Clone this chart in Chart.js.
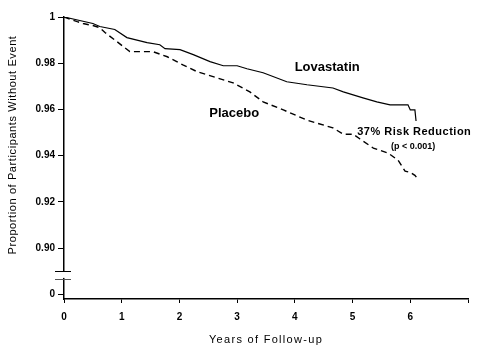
<!DOCTYPE html>
<html>
  <head>
    <title>Lovastatin vs Placebo - Proportion Without Event</title>
    <script src="https://cdn.jsdelivr.net/npm/chart.js"></script>
    <style>
      body { margin: 0; background: #fff; }
      #wrap { width: 503px; height: 364px; }
    </style>
  </head>
  <body>
    <div id="wrap"><canvas id="km-chart"></canvas></div>
    <script>
      // Kaplan-Meier style curves
      const lovastatinYears = [0, 0.50, 0.62, 0.88, 1.09, 1.44, 1.66, 1.75, 2.01, 2.24, 2.53, 2.76, 3.00, 3.17, 3.45, 3.86, 4.21, 4.66, 4.84, 5.18, 5.42, 5.65, 5.96, 6.00, 6.08, 6.10];
      const lovastatinSurvival = [1.000, 0.9972, 0.9959, 0.9946, 0.9911, 0.9889, 0.9880, 0.9863, 0.9859, 0.9837, 0.9807, 0.9789, 0.9789, 0.9776, 0.9759, 0.9720, 0.9707, 0.9693, 0.9676, 0.9650, 0.9633, 0.9620, 0.9620, 0.9598, 0.9598, 0.9550];

      const placeboYears = [0, 0.23, 0.33, 0.50, 0.62, 0.71, 0.92, 1.14, 1.54, 1.79, 2.06, 2.31, 2.65, 2.93, 3.22, 3.45, 3.80, 4.21, 4.66, 4.84, 5.01, 5.13, 5.36, 5.62, 5.79, 5.91, 6.00, 6.08, 6.12];
      const placeboSurvival = [1.000, 0.9980, 0.9972, 0.9963, 0.9954, 0.9933, 0.9893, 0.9850, 0.9850, 0.9828, 0.9793, 0.9763, 0.9737, 0.9715, 0.9676, 0.9633, 0.9598, 0.9554, 0.9520, 0.9493, 0.9493, 0.9472, 0.9433, 0.9411, 0.9380, 0.9333, 0.9328, 0.9315, 0.9302];

      // y axis is broken: the lowest tick (drawn at 0.88) stands for 0
      const yTickValues = [0.88, 0.90, 0.92, 0.94, 0.96, 0.98, 1.00];
      const yTickLabels = ["0", "0.90", "0.92", "0.94", "0.96", "0.98", "1"];
      const xTickLabels = ["0", "1", "2", "3", "4", "5", "6", ""];

      const toPoints = (xs, ys) => xs.map((x, i) => ({ x: x, y: ys[i] }));

      // text placed inside the plot, in data units
      const notes = [
        { text: "Lovastatin", x: 4.56, y: 0.9781, font: "bold 13px 'Liberation Sans', Arial", align: "center", spacing: "0px" },
        { text: "Placebo", x: 2.95, y: 0.9582, font: "bold 13px 'Liberation Sans', Arial", align: "center", spacing: "0px" },
        { text: "37% Risk Reduction", x: 5.08, y: 0.9504, font: "bold 11px 'Liberation Sans', Arial", align: "left", spacing: "0.5px" },
        { text: "(p < 0.001)", x: 6.05, y: 0.9439, font: "bold 9px 'Liberation Sans', Arial", align: "center", spacing: "0px" }
      ];

      const extras = {
        id: "extras",
        afterDraw(chart) {
          const ctx = chart.ctx;
          const xs = chart.scales.x, ys = chart.scales.y;
          const left = chart.chartArea.left;
          ctx.save();

          // axis break
          const yb1 = ys.getPixelForValue(0.8902);
          const yb2 = ys.getPixelForValue(0.8867);
          ctx.fillStyle = "#fff";
          ctx.fillRect(left - 3, yb1 + 1, 6, yb2 - yb1 - 2);
          ctx.lineWidth = 1;
          ctx.strokeStyle = "#000";
          ctx.beginPath();
          ctx.moveTo(left - 9, Math.round(yb1) + 0.5);
          ctx.lineTo(left + 7, Math.round(yb1) + 0.5);
          ctx.stroke();
          ctx.strokeStyle = "#555";
          ctx.beginPath();
          ctx.moveTo(left - 9, Math.round(yb2) + 0.5);
          ctx.lineTo(left + 7, Math.round(yb2) + 0.5);
          ctx.stroke();

          // annotations
          ctx.fillStyle = "#000";
          ctx.textBaseline = "middle";
          notes.forEach(n => {
            ctx.font = n.font;
            ctx.letterSpacing = n.spacing;
            ctx.textAlign = n.align;
            ctx.fillText(n.text, xs.getPixelForValue(n.x), ys.getPixelForValue(n.y));
          });

          // axis titles
          ctx.font = "11px 'Liberation Sans', Arial";
          ctx.letterSpacing = "1.3px";
          ctx.textAlign = "center";
          ctx.fillText("Years of Follow-up", (chart.chartArea.left + chart.chartArea.right) / 2, 340);

          ctx.letterSpacing = "0.6px";
          ctx.translate(13, 145);
          ctx.rotate(-Math.PI / 2);
          ctx.fillText("Proportion of Participants Without Event", 0, 0);
          ctx.restore();
        }
      };

      Chart.defaults.font.family = "'Liberation Sans', Arial, sans-serif";
      Chart.defaults.color = "#000";

      new Chart(document.getElementById("km-chart"), {
        type: "line",
        data: {
          datasets: [
            {
              label: "Lovastatin",
              data: toPoints(lovastatinYears, lovastatinSurvival),
              borderColor: "#000",
              borderWidth: 1.2,
              pointRadius: 0,
              tension: 0,
              fill: false
            },
            {
              label: "Placebo",
              data: toPoints(placeboYears, placeboSurvival),
              borderColor: "#000",
              borderWidth: 1.4,
              borderDash: [6, 4],
              pointRadius: 0,
              tension: 0,
              fill: false
            }
          ]
        },
        options: {
          responsive: true,
          maintainAspectRatio: false,
          animation: false,
          layout: { padding: { top: 17, right: 35, left: 0, bottom: 0 } },
          plugins: {
            legend: { display: false },
            tooltip: { enabled: false }
          },
          scales: {
            x: {
              type: "linear",
              min: 0,
              max: 7,
              afterFit: s => { s.height = 65; },
              ticks: {
                stepSize: 1,
                padding: 8,
                font: { size: 10, weight: "bold" },
                callback: v => xTickLabels[v]
              },
              grid: { drawOnChartArea: false, drawTicks: true, tickLength: 4, color: "#000", lineWidth: 1 },
              border: { display: true, color: "#000", width: 1.5 }
            },
            y: {
              type: "linear",
              min: 0.878,
              max: 1.0,
              afterFit: s => { s.width = 64; },
              afterBuildTicks: s => { s.ticks = yTickValues.map(v => ({ value: v })); },
              ticks: {
                padding: 3,
                font: { size: 10, weight: "bold" },
                callback: (v, i) => yTickLabels[i]
              },
              grid: { drawOnChartArea: false, drawTicks: true, tickLength: 6, color: "#000", lineWidth: 1 },
              border: { display: true, color: "#000", width: 1.5 }
            }
          }
        },
        plugins: [extras]
      });
    </script>
  </body>
</html>
